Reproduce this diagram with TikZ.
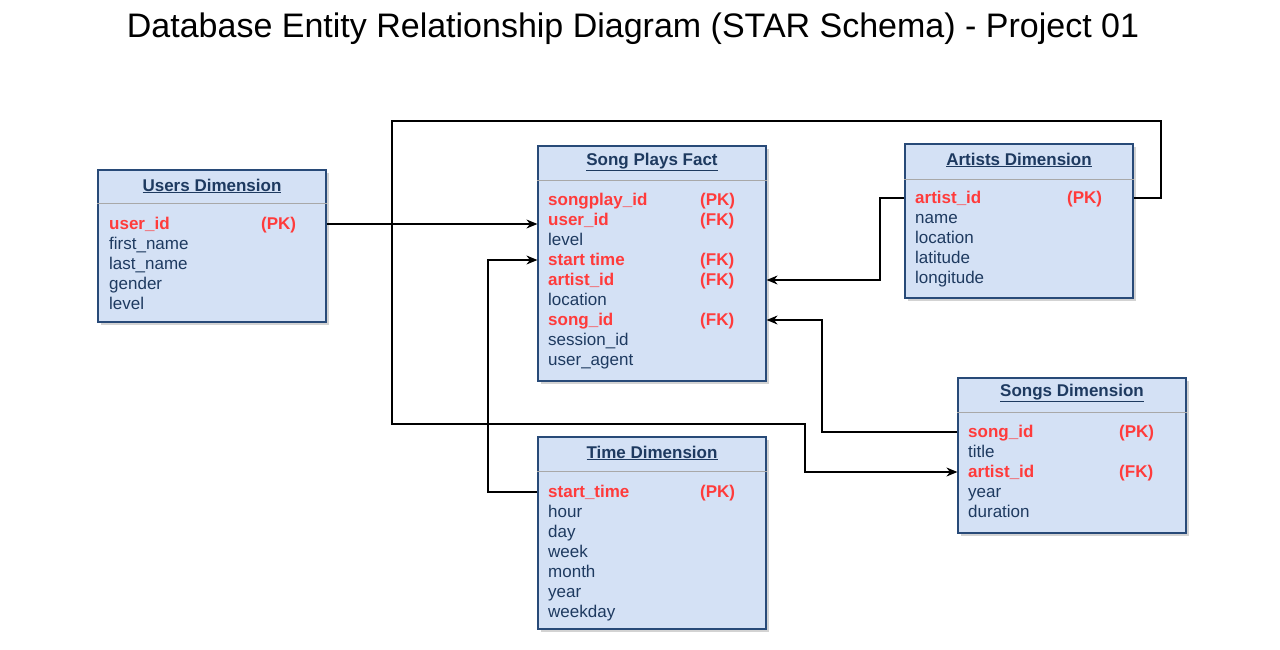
\documentclass[tikz,border=0pt]{standalone}
\usepackage{fontspec}
\setmainfont{Liberation Sans}
\usepackage{xcolor}
\usetikzlibrary{arrows.meta, shadows}
\definecolor{boxfill}{HTML}{D4E1F5}
\definecolor{boxline}{HTML}{284A78}
\definecolor{boxtext}{HTML}{1E3A60}
\definecolor{keyred}{HTML}{FF3B3B}
\definecolor{rulegray}{HTML}{A8A8A8}

\begin{document}
\begin{tikzpicture}[x=1pt, y=-1pt,
    dim box/.style={draw=boxline, line width=1.2pt, fill=boxfill, inner sep=0pt,
      drop shadow={shadow xshift=3pt, shadow yshift=-3pt, opacity=0.35}},
    head/.style={inner sep=0pt, text=boxtext, font=\bfseries\fontsize{17}{20}\selectfont},
    field/.style={anchor=west, inner sep=0pt, text height=13pt, text depth=3pt,
      text=boxtext, font=\fontsize{17}{20}\selectfont},
    key field/.style={field, text=keyred, font=\bfseries\fontsize{17}{20}\selectfont},
    divider/.style={rulegray, line width=1pt},
    link/.style={draw=black, line width=1.2pt, -{Stealth[length=11pt, width=9pt]}} ]
    \useasboundingbox (0,0) rectangle (1280,650);
    \node at (633,29) [font=\fontsize{34}{40}\selectfont] (title) {Database Entity Relationship Diagram (STAR Schema) - Project 01};

    \node at (212,246) [dim box, minimum width=228pt, minimum height=152pt] (users) {};
    \node at (212,186) [head] (usershead) {\underline{Users Dimension}};
    \draw [divider] (users.west |- 0,203) -- (users.east |- 0,203);
    \node at (109,224) [key field] (u1) {user\_id};
    \node at (261,224) [key field] (u1k) {(PK)};
    \node at (109,244) [field] (u2) {first\_name};
    \node at (109,264) [field] (u3) {last\_name};
    \node at (109,284) [field] (u4) {gender};
    \node at (109,304) [field] (u5) {level};

    \node at (652,263.5) [dim box, minimum width=228pt, minimum height=235pt] (fact) {};
    \node at (652,162) [head] (facthead) {\underline{Song Plays Fact}};
    \draw [divider] (fact.west |- 0,180) -- (fact.east |- 0,180);
    \node at (548,200) [key field] (f1) {songplay\_id};
    \node at (700,200) [key field] (f1k) {(PK)};
    \node at (548,220) [key field] (f2) {user\_id};
    \node at (700,220) [key field] (f2k) {(FK)};
    \node at (548,240) [field] (f3) {level};
    \node at (548,260) [key field] (f4) {start time};
    \node at (700,260) [key field] (f4k) {(FK)};
    \node at (548,280) [key field] (f5) {artist\_id};
    \node at (700,280) [key field] (f5k) {(FK)};
    \node at (548,300) [field] (f6) {location};
    \node at (548,320) [key field] (f7) {song\_id};
    \node at (700,320) [key field] (f7k) {(FK)};
    \node at (548,340) [field] (f8) {session\_id};
    \node at (548,360) [field] (f9) {user\_agent};

    \node at (1019,221) [dim box, minimum width=228pt, minimum height=154pt] (artists) {};
    \node at (1019,160) [head] (artistshead) {\underline{Artists Dimension}};
    \draw [divider] (artists.west |- 0,179) -- (artists.east |- 0,179);
    \node at (915,198) [key field] (a1) {artist\_id};
    \node at (1067,198) [key field] (a1k) {(PK)};
    \node at (915,218) [field] (a2) {name};
    \node at (915,238) [field] (a3) {location};
    \node at (915,258) [field] (a4) {latitude};
    \node at (915,278) [field] (a5) {longitude};

    \node at (1072,455.5) [dim box, minimum width=228pt, minimum height=155pt] (songs) {};
    \node at (1072,393) [head] (songshead) {\underline{Songs Dimension}};
    \draw [divider] (songs.west |- 0,412) -- (songs.east |- 0,412);
    \node at (968,432) [key field] (s1) {song\_id};
    \node at (1119,432) [key field] (s1k) {(PK)};
    \node at (968,452) [field] (s2) {title};
    \node at (968,472) [key field] (s3) {artist\_id};
    \node at (1119,472) [key field] (s3k) {(FK)};
    \node at (968,492) [field] (s4) {year};
    \node at (968,512) [field] (s5) {duration};

    \node at (652,533) [dim box, minimum width=228pt, minimum height=192pt] (time) {};
    \node at (652,453) [head] (timehead) {\underline{Time Dimension}};
    \draw [divider] (time.west |- 0,471) -- (time.east |- 0,471);
    \node at (548,492) [key field] (t1) {start\_time};
    \node at (700,492) [key field] (t1k) {(PK)};
    \node at (548,512) [field] (t2) {hour};
    \node at (548,532) [field] (t3) {day};
    \node at (548,552) [field] (t4) {week};
    \node at (548,572) [field] (t5) {month};
    \node at (548,592) [field] (t6) {year};
    \node at (548,612) [field] (t7) {weekday};

    \draw [link] (users.east |- u1) to (fact.west |- u1);
    \draw [link] (time.west |- t1) -| (488,0 |- f4) -- (fact.west |- f4);
    \draw [link] (artists.west |- a1) -| (880,0 |- f5) -- (fact.east |- f5);
    \draw [link] (songs.west |- s1) -| (822,0 |- f7) -- (fact.east |- f7);
    \draw [link] (artists.east |- a1) -| (1161,121) -| (392,424) -| (805,0 |- s3) -- (songs.west |- s3);
\end{tikzpicture}
\end{document}
